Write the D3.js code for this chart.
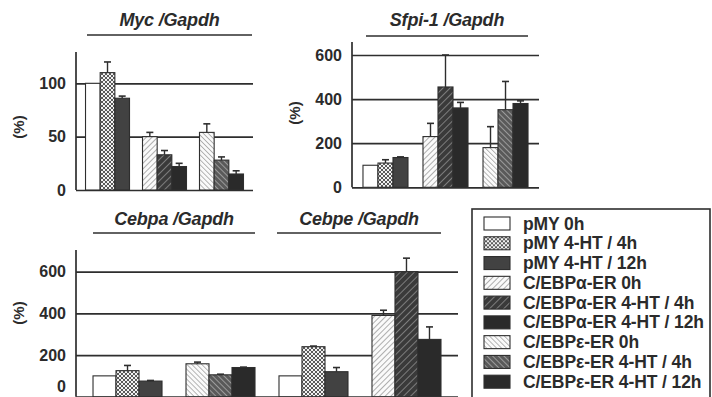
<!DOCTYPE html>
<html>
<head>
<meta charset="utf-8">
<script src="https://cdn.jsdelivr.net/npm/d3@7"></script>
<style>
  body { margin: 0; background: #fff; }
  svg text { font-family: "Liberation Sans", Arial, sans-serif; fill: #2b2b2b; }
</style>
</head>
<body>
<svg id="chart" width="712" height="397"></svg>
<script>
// series (legend order)
const seriesNames = ['pMY 0h', 'pMY 4-HT / 4h', 'pMY 4-HT / 12h',
  'C/EBPα-ER 0h', 'C/EBPα-ER 4-HT / 4h', 'C/EBPα-ER 4-HT / 12h',
  'C/EBPε-ER 0h', 'C/EBPε-ER 4-HT / 4h', 'C/EBPε-ER 4-HT / 12h'];
const groupNames = ['pMY', 'C/EBPα-ER', 'C/EBPε-ER'];

// Myc / Gapdh
const mycSeries = [0, 1, 2, 3, 4, 5, 6, 7, 8];
const mycValues = [100, 110, 86, 50, 33, 22, 54, 28, 15];
const mycErrTop = [100, 120, 88, 54, 37, 25, 62, 31, 18];
const mycTicks = [0, 50, 100];

// Sfpi-1 / Gapdh
const sfpiSeries = [0, 1, 2, 3, 4, 5, 6, 7, 8];
const sfpiValues = [100, 110, 135, 230, 455, 360, 180, 352, 380];
const sfpiErrTop = [100, 125, 138, 290, 600, 385, 275, 480, 392];
const sfpiTicks = [0, 200, 400, 600];

// Cebpa / Gapdh  (pMY + C/EBPε-ER)
const cebpaSeries = [0, 1, 2, 6, 7, 8];
const cebpaValues = [100, 125, 75, 158, 105, 140];
const cebpaErrTop = [100, 150, 78, 166, 108, 142];

// Cebpe / Gapdh  (pMY + C/EBPα-ER)
const cebpeSeries = [0, 1, 2, 3, 4, 5];
const cebpeValues = [100, 240, 120, 390, 600, 275];
const cebpeErrTop = [100, 243, 140, 415, 665, 335];
const bottomTicks = [0, 200, 400, 600];

var svg = d3.select('#chart');
var ink = '#2e2e2e';

// ---- fill patterns ----
var defs = svg.append('defs');
function hatch(id, bg, fg, dir, gap, w){
    var p = defs.append('pattern').attr('id', id)
        .attr('patternUnits', 'userSpaceOnUse')
        .attr('width', gap).attr('height', gap)
        .attr('patternTransform', 'rotate(' + dir + ')');
    p.append('rect').attr('width', gap).attr('height', gap).attr('fill', bg);
    p.append('line').attr('x1', 0).attr('y1', 0).attr('x2', 0).attr('y2', gap)
        .attr('stroke', fg).attr('stroke-width', w);
}
function mesh(id){
    var p = defs.append('pattern').attr('id', id)
        .attr('patternUnits', 'userSpaceOnUse')
        .attr('width', 4).attr('height', 4);
    p.append('rect').attr('width', 4).attr('height', 4).attr('fill', '#f2f2f2');
    p.append('path').attr('d', 'M0,0L4,4M4,0L0,4').attr('stroke', '#5a5a5a').attr('stroke-width', 1);
}
mesh('pat1');
hatch('pat3', '#fafafa', '#7a7a7a', 45, 4, 1.2);
hatch('pat4', '#3a3a3a', '#9a9a9a', 45, 5, 1.4);
hatch('pat6', '#fafafa', '#8a8a8a', -45, 3.5, 1.2);
hatch('pat7', '#5a5a5a', '#bdbdbd', -45, 4, 1.3);
var fills = ['#ffffff', 'url(#pat1)', '#424242', 'url(#pat3)', 'url(#pat4)', '#2a2a2a',
    'url(#pat6)', 'url(#pat7)', '#2a2a2a'];

// ---- helpers ----
function drawAxis(y, ticks, axisX, right, axisTop, labelY, zeroShift){
    var g = svg.append('g').attr('transform', 'translate(' + axisX + ',0)');
    g.call(d3.axisLeft(y).tickValues(ticks).tickSizeInner(-(right - axisX))
        .tickSizeOuter(0).tickPadding(10).tickFormat(d3.format('d')));
    g.select('.domain').remove();
    g.selectAll('.tick line').attr('stroke', ink).attr('stroke-width', 1.7);
    g.selectAll('.tick text').attr('font-size', 16).attr('font-weight', 'bold')
        .attr('font-family', '"Liberation Sans", Arial, sans-serif').attr('fill', '#2b2b2b')
        .attr('dy', function(d){ return d === 0 && zeroShift ? '-0.35em' : '0.32em'; });
    svg.append('line').attr('x1', axisX).attr('x2', axisX)
        .attr('y1', axisTop).attr('y2', y(0))
        .attr('stroke', ink).attr('stroke-width', 1.7);
    svg.append('text').attr('transform', 'translate(' + (axisX - 56) + ',' + labelY + ') rotate(-90)')
        .attr('text-anchor', 'middle').attr('dominant-baseline', 'middle')
        .attr('font-size', 15).attr('font-weight', 'bold').text('(%)');
}

function drawBars(x, y, groupKeys, series, values, errTop){
    var inner = d3.scaleBand().domain([0, 1, 2]).range([0, x.bandwidth()]);
    var data = values.map(function(v, i){
        return {g: groupKeys[Math.floor(i / 3)], k: i % 3, s: series[i], v: v, e: errTop[i]};
    });
    svg.append('g').selectAll('rect').data(data).enter().append('rect')
        .attr('x', function(d){ return x(d.g) + inner(d.k); })
        .attr('width', inner.bandwidth())
        .attr('y', function(d){ return y(d.v); })
        .attr('height', function(d){ return y(0) - y(d.v); })
        .attr('fill', function(d){ return fills[d.s]; })
        .attr('stroke', ink).attr('stroke-width', 1.1);
    var eb = svg.append('g').selectAll('g').data(data.filter(function(d){ return d.e > d.v + 0.5; }))
        .enter().append('g')
        .attr('transform', function(d){ return 'translate(' + (x(d.g) + inner(d.k) + inner.bandwidth() / 2) + ',0)'; });
    eb.append('line').attr('y1', function(d){ return y(d.v); }).attr('y2', function(d){ return y(d.e); })
        .attr('stroke', ink).attr('stroke-width', 1.4);
    eb.append('line').attr('x1', -3.5).attr('x2', 3.5)
        .attr('y1', function(d){ return y(d.e); }).attr('y2', function(d){ return y(d.e); })
        .attr('stroke', ink).attr('stroke-width', 1.6);
}

function drawTitle(name, x0, x1, ty, ly){
    svg.append('text').attr('x', (x0 + x1) / 2).attr('y', ty)
        .attr('text-anchor', 'middle').attr('font-size', 18)
        .attr('font-weight', 'bold').attr('font-style', 'italic')
        .attr('letter-spacing', -0.2).text(name);
    svg.append('line').attr('x1', x0).attr('x2', x1).attr('y1', ly).attr('y2', ly)
        .attr('stroke', ink).attr('stroke-width', 1.7);
}

// ---- Myc ----
var xMyc = d3.scaleBand().domain(groupNames).range([76, 253]).paddingInner(0.228).paddingOuter(0.167);
var yMyc = d3.scaleLinear().domain([0, 100]).range([190, 83.3]);
drawAxis(yMyc, mycTicks, 76, 253, 52, 127, false);
drawBars(xMyc, yMyc, groupNames, mycSeries, mycValues, mycErrTop);
drawTitle('Myc /Gapdh', 87, 252, 26, 35);

// ---- Sfpi-1 ----
var xSfpi = d3.scaleBand().domain(groupNames).range([352, 539]).paddingInner(0.25).paddingOuter(0.183);
var ySfpi = d3.scaleLinear().domain([0, 600]).range([187.3, 55]);
drawAxis(ySfpi, sfpiTicks, 352, 539, 42, 113, false);
drawBars(xSfpi, ySfpi, groupNames, sfpiSeries, sfpiValues, sfpiErrTop);
drawTitle('Sfpi-1 /Gapdh', 366, 528, 26, 36);

// ---- Cebpa / Cebpe (shared axis) ----
var bottomKeys = ['a:pMY', 'a:C/EBPε-ER', 'e:pMY', 'e:C/EBPα-ER'];
var xBot = d3.scaleBand().domain(bottomKeys).range([76, 458]).paddingInner(0.258).paddingOuter(0.183);
var yBot = d3.scaleLinear().domain([0, 600]).range([396.7, 271.7]);
drawAxis(yBot, bottomTicks, 76, 458, 250, 313, true);
drawBars(xBot, yBot, bottomKeys.slice(0, 2), cebpaSeries, cebpaValues, cebpaErrTop);
drawBars(xBot, yBot, bottomKeys.slice(2, 4), cebpeSeries, cebpeValues, cebpeErrTop);
drawTitle('Cebpa /Gapdh', xBot(bottomKeys[0]), xBot(bottomKeys[1]) + xBot.bandwidth(), 225, 233);
drawTitle('Cebpe /Gapdh', xBot(bottomKeys[2]) - 2, xBot(bottomKeys[3]) + xBot.bandwidth(), 225, 233);

// ---- legend ----
var legend = svg.append('g');
legend.append('rect').attr('x', 472).attr('y', 209).attr('width', 238).attr('height', 220)
    .attr('fill', '#fff').attr('stroke', ink).attr('stroke-width', 1.6);
var rowY = d3.scalePoint().domain(d3.range(seriesNames.length)).range([223.5, 381.7]);
var rows = legend.selectAll('g.row').data(seriesNames).enter().append('g')
    .attr('class', 'row')
    .attr('transform', function(d, i){ return 'translate(0,' + rowY(i) + ')'; });
rows.append('rect').attr('x', 484).attr('y', -6.5).attr('width', 26).attr('height', 13)
    .attr('fill', function(d, i){ return fills[i]; })
    .attr('stroke', ink).attr('stroke-width', 1.1);
rows.append('text').attr('x', 523).attr('y', 0).attr('dominant-baseline', 'central')
    .attr('font-size', 17.5).attr('font-weight', 'bold').attr('letter-spacing', -0.1)
    .text(function(d){ return d; });
</script>
</body>
</html>
